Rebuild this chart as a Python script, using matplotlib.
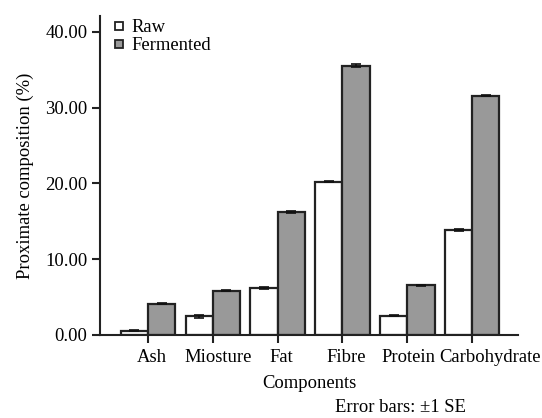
import matplotlib
matplotlib.use("Agg")
import matplotlib.pyplot as plt
from matplotlib.lines import Line2D
import matplotlib.transforms as mtransforms
import numpy as np

components = ["Ash", "Miosture", "Fat", "Fibre", "Protein", "Carbohydrate"]
raw = [0.55, 2.45, 6.2, 20.2, 2.55, 13.85]
raw_se = [0.05, 0.25, 0.1, 0.05, 0.05, 0.1]
fermented = [4.15, 5.85, 16.25, 35.55, 6.55, 31.55]
fermented_se = [0.05, 0.1, 0.1, 0.2, 0.1, 0.08]
y_ticks = [0, 10, 20, 30, 40]

plt.rcParams['font.family'] = ['Liberation Serif', 'DejaVu Serif']
plt.rcParams['font.size'] = 13.4

fig = plt.figure(figsize=(5.42, 4.18), dpi=100)
ax = fig.add_axes([0.1845, 0.1986, 0.7715, 0.7634])

x = np.arange(len(components))
w = 0.42
edge = '#222222'
gray = '#999999'
ekw = dict(ecolor='#111111', elinewidth=1.2, capsize=3.5, capthick=1.2)
ax.bar(x - w / 2, raw, w, color='white', edgecolor=edge, linewidth=1.6,
       yerr=raw_se, error_kw=ekw)
ax.bar(x + w / 2, fermented, w, color=gray, edgecolor=edge, linewidth=1.6,
       yerr=fermented_se, error_kw=ekw)

ax.set_xlim(-0.74, 5.71)
ax.set_ylim(0, 42.1)
ax.set_yticks(y_ticks)
ax.set_yticklabels([f"{v:.2f}" for v in y_ticks])
ax.set_xticks(x)
ax.set_xticklabels([])

# category labels sit a little right of their ticks in the original
offsets = [4, 5, 4, 4, 1, 18]
for xi, name, dx in zip(x, components, offsets):
    tr = ax.get_xaxis_transform() + mtransforms.ScaledTranslation(dx / 100, -14 / 100, fig.dpi_scale_trans)
    ax.text(xi, 0, name, transform=tr, ha='center', va='top')

for s in ['top', 'right']:
    ax.spines[s].set_visible(False)
for s in ['left', 'bottom']:
    ax.spines[s].set_linewidth(1.5)
    ax.spines[s].set_color('#222222')
ax.tick_params(direction='out', length=6, width=1.5, color='#222222', pad=3)

ax.set_ylabel('Proximate composition (%)', labelpad=8)
ax.set_xlabel('Components', labelpad=20)

handles = [
    Line2D([], [], marker='s', linestyle='none', markersize=6,
           markerfacecolor='white', markeredgecolor=edge, markeredgewidth=1.3),
    Line2D([], [], marker='s', linestyle='none', markersize=6,
           markerfacecolor=gray, markeredgecolor=edge, markeredgewidth=1.3),
]
ax.legend(handles, ['Raw', 'Fermented'], loc='upper left', bbox_to_anchor=(0.0, 1.03),
          frameon=False, handlelength=0.6, handletextpad=0.4, labelspacing=0.05,
          borderaxespad=0.3)

fig.text(0.618, 0.004, 'Error bars: \u00b11 SE', va='bottom', ha='left')

fig.savefig('out.png', dpi=100)
